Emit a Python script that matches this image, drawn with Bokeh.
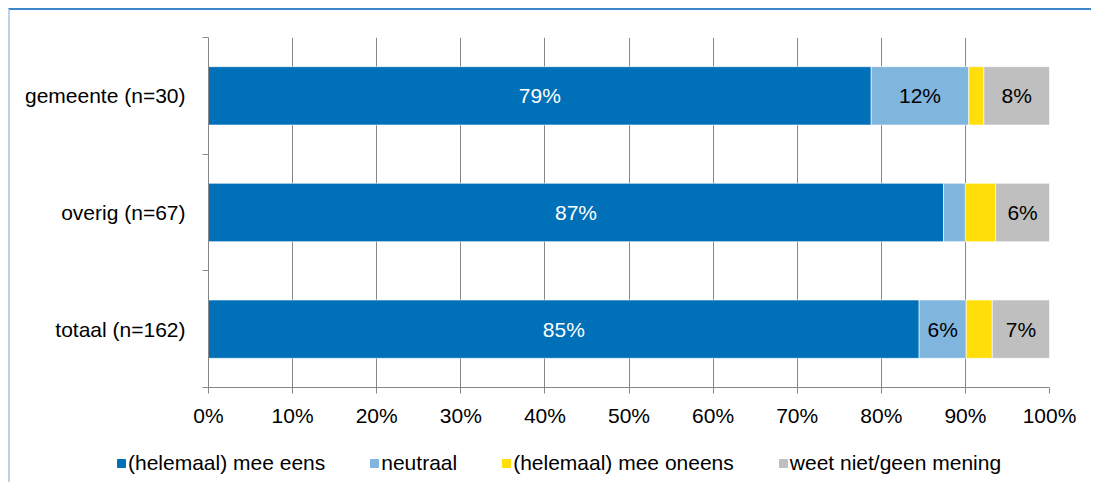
from bokeh.plotting import figure
from bokeh.layouts import column
from bokeh.models import ColumnDataSource, Range1d, FixedTicker, LabelSet, Legend, LegendItem
from bokeh.core.properties import field, value
from bokeh.embed import file_html
from bokeh.resources import INLINE

# ---- data ----
categories = ["gemeente (n=30)", "overig (n=67)", "totaal (n=162)"]
series_names = ["(helemaal) mee eens", "neutraal", "(helemaal) mee oneens", "weet niet/geen mening"]
eens = [78.8, 87.4, 84.5]
neutraal = [11.6, 2.6, 5.6]
oneens = [1.8, 3.6, 3.1]
weetniet = [7.8, 6.4, 6.8]
eens_lbl = ["79%", "87%", "85%"]
neutraal_lbl = ["12%", "", "6%"]
oneens_lbl = ["", "", ""]
weetniet_lbl = ["8%", "6%", "7%"]
x_ticks = [0, 10, 20, 30, 40, 50, 60, 70, 80, 90, 100]
x_tick_labels = ["0%", "10%", "20%", "30%", "40%", "50%", "60%", "70%", "80%", "90%", "100%"]

colors = ["#0070b8", "#80b6de", "#ffde0a", "#bfbfbf"]
label_colors = ["white", "black", "black", "black"]
FONT = "Liberation Sans"
FS = "21px"
W = 1081

n = len(categories)
ypos = [n - i - 0.5 for i in range(n)]
keys = ["eens", "neutraal", "oneens", "weetniet"]
vals = [eens, neutraal, oneens, weetniet]
lbls = [eens_lbl, neutraal_lbl, oneens_lbl, weetniet_lbl]

src = ColumnDataSource(dict(y=ypos, **{k: v for k, v in zip(keys, vals)}))

p = figure(width=W, height=424, x_range=Range1d(0, 100), y_range=Range1d(0, n),
           output_backend="svg", toolbar_location=None,
           min_border_left=198, min_border_right=42, min_border_top=27, min_border_bottom=47)
p.outline_line_color = None
p.background_fill_color = "white"
p.border_fill_color = "white"

renderers = p.hbar_stack(keys, y="y", height=0.5, color=colors, source=src,
                         line_color="white", line_width=0.6)

# segment labels
lx, ly, lt, lc = [], [], [], []
for i in range(n):
    left = 0.0
    for s in range(len(keys)):
        v = vals[s][i]
        lx.append(left + v / 2.0)
        ly.append(ypos[i])
        lt.append(lbls[s][i])
        lc.append(label_colors[s])
        left += v
lsrc = ColumnDataSource(dict(x=lx, y=ly, text=lt, color=lc))
p.add_layout(LabelSet(x="x", y="y", text="text", source=lsrc, text_align="center",
                      text_baseline="middle", text_color=field("color"),
                      text_font_size=value(FS), text_font=value(FONT)))

# grid
p.xgrid.ticker = FixedTicker(ticks=x_ticks)
p.xgrid.grid_line_color = "#878787"
p.xgrid.grid_line_width = 1
p.ygrid.grid_line_color = None

# x axis
p.xaxis.ticker = FixedTicker(ticks=x_ticks)
p.xaxis.major_label_overrides = {t: l for t, l in zip(x_ticks, x_tick_labels)}
p.xaxis.axis_line_color = "#878787"
p.xaxis.major_tick_line_color = "#878787"
p.xaxis.major_tick_out = 6
p.xaxis.major_tick_in = 0
p.xaxis.minor_tick_line_color = None
p.xaxis.major_label_standoff = 10
p.xaxis.major_label_text_font = FONT
p.xaxis.major_label_text_font_size = FS
p.xaxis.major_label_text_color = "black"

# y axis
p.yaxis.ticker = FixedTicker(ticks=ypos, minor_ticks=list(range(n + 1)))
p.yaxis.major_label_overrides = {y: c for y, c in zip(ypos, categories)}
p.yaxis.axis_line_color = "#878787"
p.yaxis.major_tick_line_color = None
p.yaxis.major_tick_out = 0
p.yaxis.major_tick_in = 0
p.yaxis.minor_tick_line_color = "#878787"
p.yaxis.minor_tick_out = 6
p.yaxis.minor_tick_in = 0
p.yaxis.major_label_standoff = 17
p.yaxis.major_label_text_font = FONT
p.yaxis.major_label_text_font_size = FS
p.yaxis.major_label_text_color = "black"

# legend strip below the chart
lg = figure(width=W, height=48, x_range=Range1d(0, 1), y_range=Range1d(0, 1),
            output_backend="svg", toolbar_location=None, min_border=0)
lg.frame_align = False
lg.axis.visible = False
lg.grid.visible = False
lg.outline_line_color = None
lg.border_fill_color = "white"
dummies = [lg.hbar(y=[-10], right=[-10], height=0.5, color=c) for c in colors]
legend = Legend(items=[LegendItem(label=nm, renderers=[r]) for nm, r in zip(series_names, dummies)],
                orientation="horizontal", location=(106, 7),
                glyph_width=10, glyph_height=10, label_standoff=2, spacing=44,
                padding=0, margin=0, border_line_color=None, background_fill_alpha=0,
                label_text_font=FONT, label_text_font_size=FS, label_text_color="black")
lg.add_layout(legend, "center")

layout = column(p, lg, spacing=0,
                styles={"border-top": "2px solid #3a86c6", "border-left": "2px solid #bcd2ea",
                        "margin-left": "8px", "margin-top": "8px"})

open("out.html", "w").write(file_html(layout, INLINE))
